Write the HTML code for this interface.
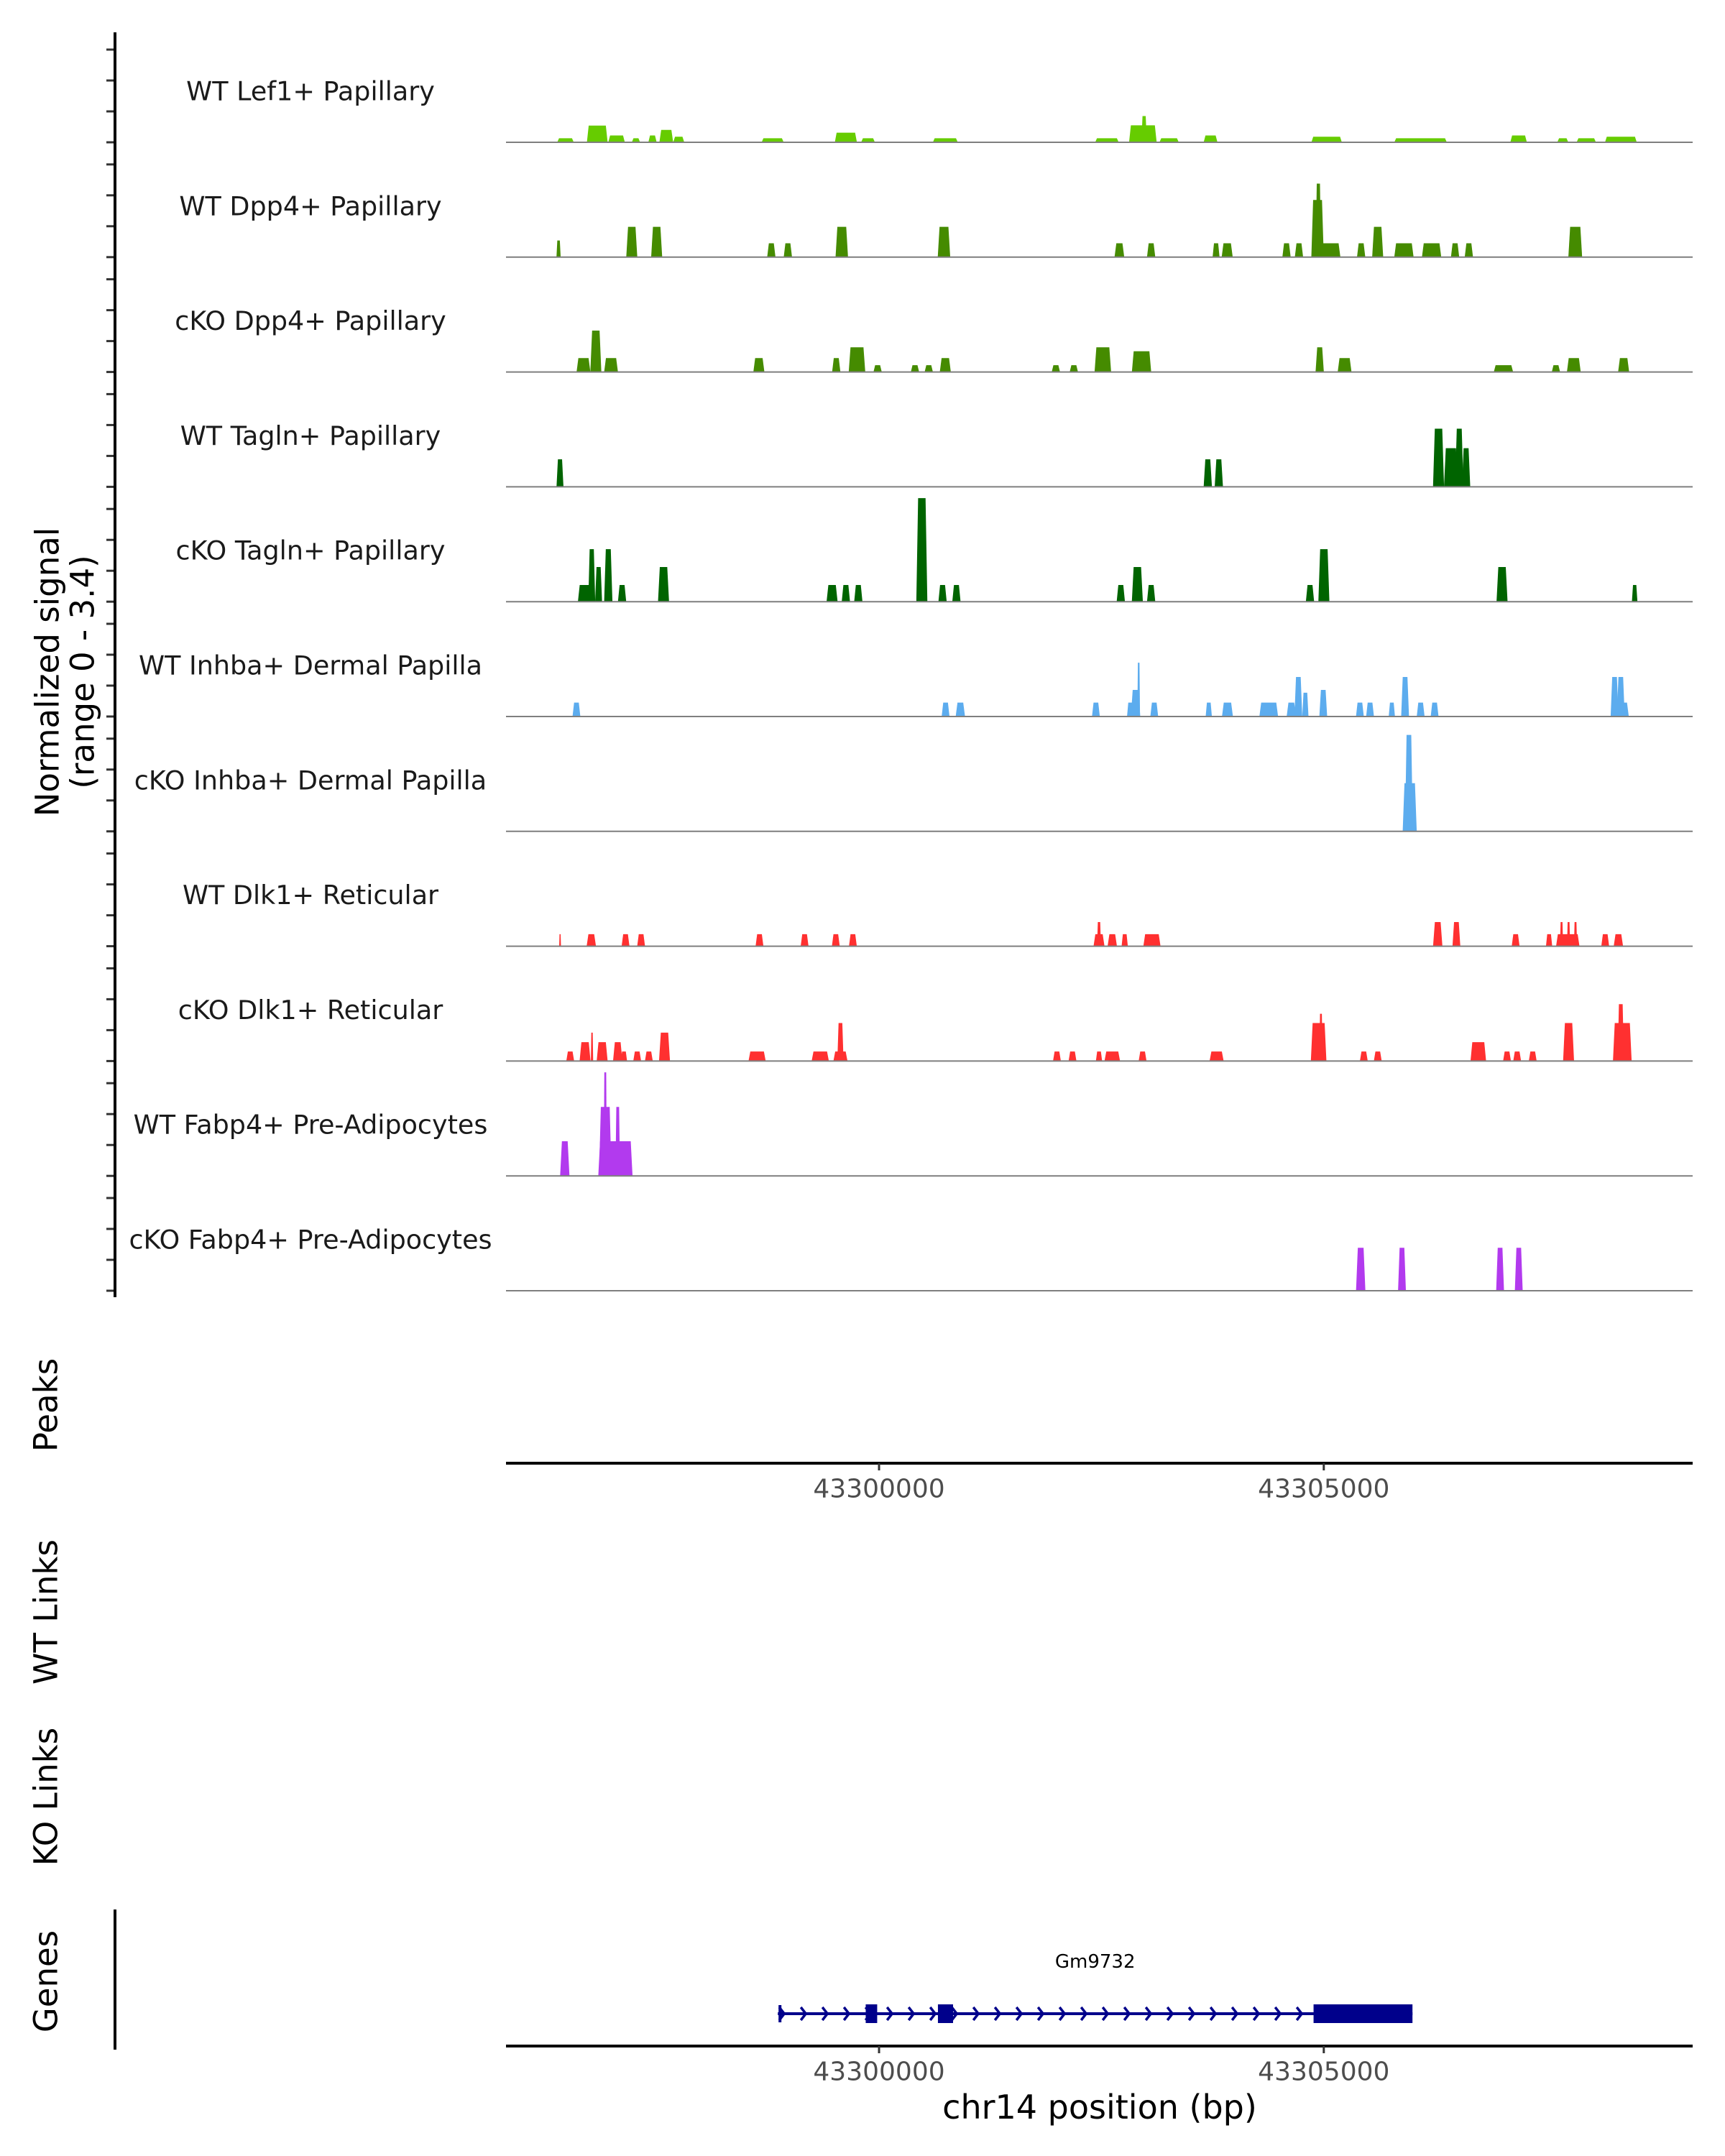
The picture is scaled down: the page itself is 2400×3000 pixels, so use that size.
<!DOCTYPE html>
<html><head><meta charset="utf-8">
<style>
html,body{margin:0;padding:0;background:#fff;}
svg{display:block;}
text{font-family:"DejaVu Sans","Liberation Sans",sans-serif;}
</style></head>
<body>
<svg id="chart" width="2400" height="3000" viewBox="0 0 2400 3000" xmlns="http://www.w3.org/2000/svg">
  <rect width="2400" height="3000" fill="#fff"/>
  <g id="tracks"></g>
  <g id="axes"></g>
  <g id="genes"></g>
</svg>
<script>
// ---- data ----
const trackNames = ["WT Lef1+ Papillary","WT Dpp4+ Papillary","cKO Dpp4+ Papillary","WT Tagln+ Papillary","cKO Tagln+ Papillary","WT Inhba+ Dermal Papilla","cKO Inhba+ Dermal Papilla","WT Dlk1+ Reticular","cKO Dlk1+ Reticular","WT Fabp4+ Pre-Adipocytes","cKO Fabp4+ Pre-Adipocytes"];
const trackColors = ["#66CC00","#458B00","#458B00","#006400","#006400","#5CACEE","#5CACEE","#FF3030","#FF3030","#B23AEE","#B23AEE"];
const xTicks = [43300000, 43305000];
const yTickValues = [0, 1, 2, 3];

const lef1Centers = [43296475,43296832,43297049,43297267,43297453,43297608,43297748,43298804,43299627,43299876,43300745,43302562,43302966,43302980,43303261,43303727,43305032,43306088,43307190,43307687,43307951,43308340];
const lef1Widths  = [186,233,186,93,93,155,124,248,248,155,280,264,310,60,217,155,342,590,186,124,217,357];
const lef1Values  = [0.13,0.54,0.22,0.13,0.22,0.40,0.18,0.13,0.31,0.13,0.13,0.13,0.55,0.85,0.13,0.22,0.18,0.13,0.22,0.13,0.13,0.18];

const wtDpp4Centers = [43296397,43297220,43297500,43298789,43298975,43299581,43300730,43302702,43303059,43303789,43303914,43304581,43304721,43304930,43304939,43305078,43305420,43305606,43305901,43306212,43306476,43306631,43307827];
const wtDpp4Widths  = [47,124,124,93,93,140,140,109,93,78,124,93,93,140,60,217,93,124,217,217,93,93,155];
const wtDpp4Values  = [0.54,0.98,0.98,0.45,0.45,0.98,0.98,0.45,0.45,0.45,0.45,0.45,0.45,1.85,2.38,0.45,0.45,0.98,0.45,0.45,0.45,0.45,0.98];

const koDpp4Centers = [43296677,43296816,43296987,43298649,43299519,43299752,43299984,43300404,43300559,43300745,43301988,43302190,43302516,43302951,43304954,43305234,43307020,43307610,43307811,43308371];
const koDpp4Widths  = [155,124,155,124,93,186,93,93,93,124,93,93,186,217,93,155,217,93,155,124];
const koDpp4Values  = [0.45,1.34,0.45,0.45,0.45,0.80,0.22,0.22,0.22,0.45,0.22,0.22,0.80,0.67,0.80,0.45,0.22,0.22,0.45,0.45];

const wtTaglnCenters = [43296413,43303696,43303820,43306290,43306429,43306523,43306600];
const wtTaglnWidths  = [78,93,93,124,155,93,93];
const wtTaglnValues  = [0.89,0.89,0.89,1.88,1.25,1.88,1.25];

const koTaglnCenters = [43296692,43296770,43296847,43296956,43297111,43297577,43299472,43299627,43299767,43300481,43300714,43300870,43302718,43302904,43303059,43304845,43305001,43307004,43308495];
const koTaglnWidths  = [155,78,78,93,93,124,124,93,93,124,93,93,93,124,93,93,124,124,62];
const koTaglnValues  = [0.54,1.70,1.12,1.70,0.54,1.12,0.54,0.54,0.54,3.35,0.54,0.54,0.54,1.12,0.54,0.54,1.70,1.12,0.54];

const wtInhbaCenters = [43296598,43300748,43300914,43302438,43302823,43302884,43302919,43303094,43303707,43303917,43304381,43304635,43304714,43304793,43304994,43305406,43305520,43305765,43305914,43306089,43306246,43308350,43308269,43308339];
const wtInhbaWidths  = [88,88,105,88,70,105,30,88,70,123,210,105,88,70,88,88,88,70,88,88,88,158,88,88];
const wtInhbaValues  = [0.45,0.45,0.45,0.45,0.45,0.86,1.74,0.45,0.45,0.45,0.45,0.45,1.28,0.77,0.86,0.45,0.45,0.45,1.28,0.45,0.45,0.45,1.28,1.28];

const koInhbaCenters = [43305966,43305957];
const koInhbaWidths  = [158,88];
const koInhbaValues  = [1.56,3.12];

const wtDlk1Centers = [43296414,43296765,43297150,43297325,43298656,43299163,43299514,43299706,43302473,43302473,43302622,43302762,43303068,43306281,43306491,43307157,43307533,43307743,43307673,43307752,43307830,43308164,43308312];
const wtDlk1Widths  = [20,105,88,88,88,88,88,88,123,44,105,70,193,105,88,88,70,263,35,35,35,88,105];
const wtDlk1Values  = [0.39,0.39,0.39,0.39,0.39,0.39,0.39,0.39,0.39,0.78,0.39,0.39,0.39,0.78,0.78,0.39,0.39,0.39,0.78,0.78,0.78,0.39,0.39];

const koDlk1Centers = [43296528,43296695,43296773,43296887,43297062,43297132,43297281,43297412,43297588,43298629,43299339,43299566,43299566,43302000,43302175,43302473,43302622,43302963,43303795,43304942,43304968,43305450,43305607,43306737,43307060,43307174,43307349,43307752,43308356,43308339];
const koDlk1Widths  = [88,123,26,123,105,70,88,88,123,193,193,158,70,88,88,70,175,88,158,175,35,88,88,175,88,88,88,123,210,70];
const koDlk1Values  = [0.31,0.61,0.92,0.61,0.61,0.31,0.31,0.31,0.92,0.31,0.31,0.31,1.23,0.31,0.31,0.31,0.31,0.31,0.31,1.23,1.53,0.31,0.31,0.61,0.31,0.31,0.31,1.23,1.23,1.84];

const wtFabp4Centers = [43296467,43297036,43296922,43297062,43296922];
const wtFabp4Widths  = [105,385,140,52,35];
const wtFabp4Values  = [1.12,1.12,2.23,2.23,3.35];

const koFabp4Centers = [43305415,43305879,43306982,43307192];
const koFabp4Widths  = [105,88,88,88];
const koFabp4Values  = [1.39,1.39,1.39,1.39];

const geneStart = 43298862, geneEnd = 43305997;
const exonStarts = [43299850, 43300662, 43304885];
const exonEnds   = [43299979, 43300832, 43305997];
const geneName = "Gm9732";

// ---- scales ----
const NS = "http://www.w3.org/2000/svg";
const xDomain = [43295806, 43309147], xRange = [704, 2355];
function xs(bp){ return xRange[0] + (bp - xDomain[0]) / (xDomain[1]-xDomain[0]) * (xRange[1]-xRange[0]); }
const unitPx = 43;
function baseline(i){ return 198 + 159.8*i; }
function ys(v,i){ return baseline(i) - v*unitPx; }
function mk(tag, attrs, parent){ const e=document.createElementNS(NS,tag); for(const k in attrs) e.setAttribute(k,attrs[k]); parent.appendChild(e); return e; }

const tracksData = [
  [lef1Centers,lef1Widths,lef1Values],[wtDpp4Centers,wtDpp4Widths,wtDpp4Values],[koDpp4Centers,koDpp4Widths,koDpp4Values],
  [wtTaglnCenters,wtTaglnWidths,wtTaglnValues],[koTaglnCenters,koTaglnWidths,koTaglnValues],
  [wtInhbaCenters,wtInhbaWidths,wtInhbaValues],[koInhbaCenters,koInhbaWidths,koInhbaValues],
  [wtDlk1Centers,wtDlk1Widths,wtDlk1Values],[koDlk1Centers,koDlk1Widths,koDlk1Values],
  [wtFabp4Centers,wtFabp4Widths,wtFabp4Values],[koFabp4Centers,koFabp4Widths,koFabp4Values]
];

const tg = document.getElementById('tracks');
const ag = document.getElementById('axes');
const gg = document.getElementById('genes');

tracksData.forEach((td,i)=>{
  const [cs,ws,vs] = td;
  const g = mk('g',{},tg);
  
  
  const b = baseline(i);
  cs.forEach((c,j)=>{
    const x0 = xs(c - ws[j]/2), x1 = xs(c + ws[j]/2), y = ys(vs[j], i);
    const s = Math.min(2.5, (x1-x0)*0.2);
    const p = mk('polygon',{points:`${x0},${b} ${x0+s},${y} ${x1-s},${y} ${x1},${b}`, fill:trackColors[i]}, g);
    
    
  });
  const bl = mk('line',{x1:xRange[0],x2:xRange[1],y1:b,y2:b,stroke:'#7f7f7f','stroke-width':2},g);
  
  
  const lbl = mk('text',{x:432,y:b-71,'text-anchor':'middle','dominant-baseline':'central','font-size':36.5,fill:'#1a1a1a'},g);
  lbl.textContent = trackNames[i];
  
  
  yTickValues.forEach(v=>{
    const t = mk('line',{x1:148,x2:159,y1:ys(v,i),y2:ys(v,i),stroke:'#333','stroke-width':3},ag);
    
    
  });
});

// left signal axis
const yAxis = mk('line',{x1:160,x2:160,y1:45,y2:1805,stroke:'#000','stroke-width':4},ag);



function vtitle(txt, x, y, name){
  const t = mk('text',{x:x,y:y,'text-anchor':'middle','dominant-baseline':'central','font-size':45,fill:'#000',transform:`rotate(-90 ${x} ${y})`},ag);
  t.textContent = txt;
  
  
}
vtitle('Normalized signal', 66, 935, 'y-axis-title');
vtitle('(range 0 - 3.4)', 115, 935, 'y-axis-range');
vtitle('Peaks', 64, 1955, 'peaks-title');
vtitle('WT Links', 64, 2243, 'wt-links-title');
vtitle('KO Links', 64, 2500, 'ko-links-title');
vtitle('Genes', 64, 2757, 'genes-title');

// x axes
function xAxis(y, name){
  const l = mk('line',{x1:xRange[0],x2:xRange[1],y1:y,y2:y,stroke:'#000','stroke-width':4},ag);
  
  
  xTicks.forEach(v=>{
    const t = mk('line',{x1:xs(v),x2:xs(v),y1:y,y2:y+10,stroke:'#333','stroke-width':3},ag);
    
    
    const tl = mk('text',{x:xs(v),y:y+36,'text-anchor':'middle','dominant-baseline':'central','font-size':36,fill:'#4d4d4d'},ag);
    tl.textContent = String(v);
    
    
  });
}
xAxis(2036, 'peaks-x-axis');
xAxis(2847, 'gene-x-axis');

const gAxis = mk('line',{x1:160,x2:160,y1:2657,y2:2852,stroke:'#000','stroke-width':4},ag);



const xt = mk('text',{x:1530,y:2932,'text-anchor':'middle','dominant-baseline':'central','font-size':46,fill:'#000'},ag);
xt.textContent = 'chr14 position (bp)';



// gene model
const gy = 2802;
const gl = mk('line',{x1:xs(geneStart),x2:xs(geneEnd),y1:gy,y2:gy,stroke:'#00008B','stroke-width':4},gg);


const st = mk('line',{x1:xs(geneStart)+3,x2:xs(geneStart)+3,y1:gy-12,y2:gy+12,stroke:'#00008B','stroke-width':4},gg);


for(let x = xs(geneStart)+6; x < xs(exonStarts[2]); x += 30){
  const a = mk('polyline',{points:`${x-4},${gy-9} ${x+3},${gy} ${x-4},${gy+9}`,fill:'none',stroke:'#00008B','stroke-width':3.5},gg);
  
  
}
exonStarts.forEach((s,i)=>{
  const r = mk('rect',{x:xs(s),y:gy-13,width:xs(exonEnds[i])-xs(s),height:26,fill:'#00008B'},gg);
  
  
});
const gn = mk('text',{x:xs((geneStart+geneEnd)/2),y:2730,'text-anchor':'middle','dominant-baseline':'central','font-size':26,fill:'#000'},gg);
gn.textContent = geneName;


</script>
</body></html>
